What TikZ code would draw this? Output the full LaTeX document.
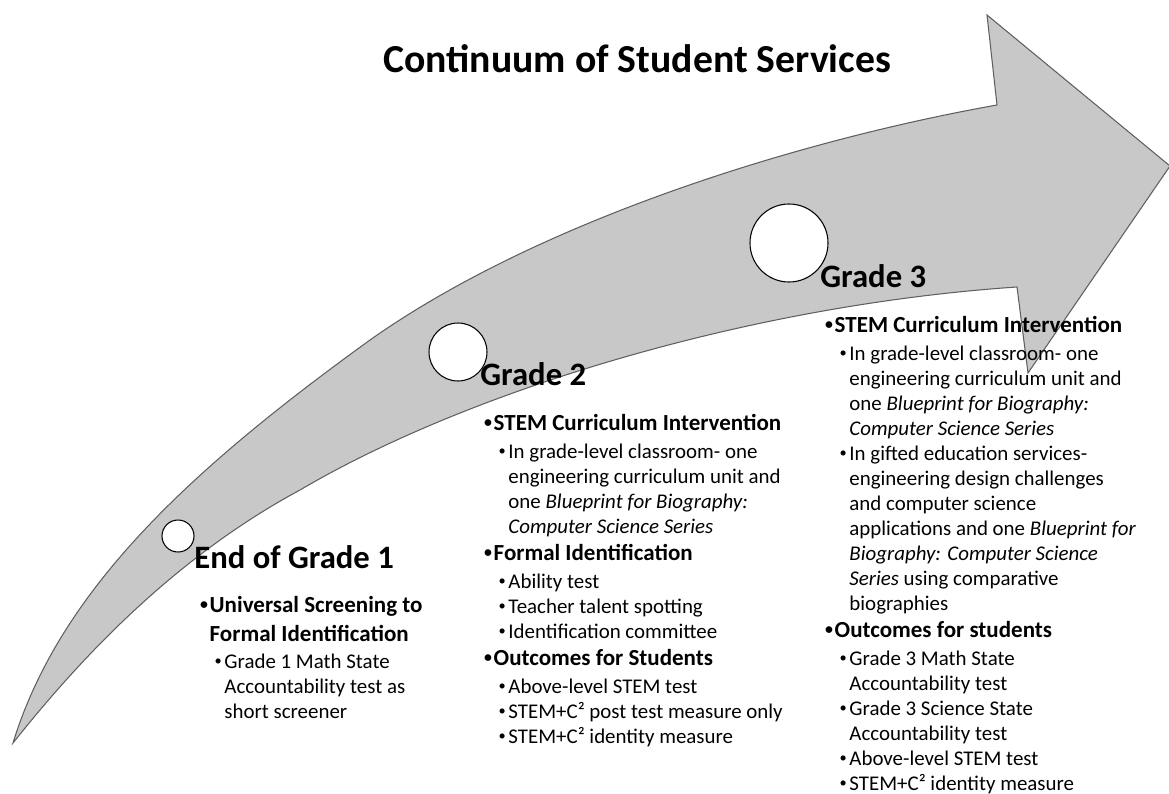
\documentclass[tikz,border=0pt]{standalone}
\usepackage{fontspec}
\setmainfont{Carlito}

\definecolor{arrowfill}{RGB}{200,200,200}
\definecolor{arrowline}{RGB}{95,95,95}

\def\ll{0.02}

% list lines: bold point, sub point, continued sub point
\newcommand{\ptA}{\hspace*{2.2pt}\makebox[5.4pt][l]{\raisebox{1.6pt}{\fontsize{9}{9}\selectfont\textbullet}}}
\newcommand{\ptB}{\hspace*{10.4pt}\makebox[5.6pt][l]{\raisebox{1.5pt}{\fontsize{8.2}{9}\selectfont\textbullet}}}
\newcommand{\lnA}[1]{{\fontsize{13.1}{14}\selectfont\bfseries\ptA #1}}
\newcommand{\lnD}[1]{{\fontsize{13.1}{14}\selectfont\bfseries\hspace*{7.6pt}#1}}
\newcommand{\lnB}[1]{\ptB #1}
\newcommand{\lnC}[1]{\hspace*{16pt}#1}

\begin{document}
\begin{tikzpicture}[
  arrow/.style={fill=arrowfill,draw=arrowline,line width=0.6pt,line join=miter},
  milestone/.style={fill=white,draw=black,line width=0.6pt},
  heading/.style={anchor=base west,inner sep=0pt,font=\fontsize{18.6}{22}\selectfont\bfseries},
  points/.style={anchor=north west,align=left,inner sep=0pt,font=\fontsize{11.9}{14.23}\selectfont}]
\useasboundingbox (0,0) rectangle (1169*\ll,-793*\ll);

\draw[arrow] ( 13*\ll,-743*\ll)
  .. controls ( 60*\ll,-590*\ll) and (190*\ll,-470*\ll) .. ( 370*\ll,-340*\ll)
  .. controls (540*\ll,-220*\ll) and (800*\ll,-140*\ll) .. ( 997*\ll,-105*\ll)
  -- ( 987*\ll, -15*\ll) -- (1170*\ll,-166*\ll) -- (1028*\ll,-373*\ll) -- (1017*\ll,-287*\ll)
  .. controls (750*\ll,-305*\ll) and (470*\ll,-390*\ll) .. ( 300*\ll,-490*\ll)
  .. controls (170*\ll,-560*\ll) and ( 75*\ll,-665*\ll) .. ( 13*\ll,-743*\ll) -- cycle;

\draw[milestone] (178*\ll,-536*\ll) circle (16*\ll);
\draw[milestone] (458*\ll,-352*\ll) circle (29*\ll);
\draw[milestone] (789*\ll,-243*\ll) circle (39*\ll);

\node[anchor=base west,inner sep=0pt,font=\fontsize{22.6}{27}\selectfont\bfseries] (title) at (383*\ll,-73*\ll) {Continuum of Student Services};

\node[heading] (head1) at (194*\ll,-568*\ll) {End of Grade 1};
\node[heading] (head2) at (480*\ll,-385*\ll) {Grade 2};
\node[heading] (head3) at (820*\ll,-287*\ll) {Grade 3};

\node[points] (list1) at (196*\ll,-596*\ll) {
  \lnA{Universal Screening to}\\[2.27pt]
  \lnD{Formal Identification}\\[1.1pt]
  \lnB{Grade 1 Math State}\\
  \lnC{Accountability test as}\\
  \lnC{short screener}};

\node[points] (list2) at (480*\ll,-414*\ll) {
  \lnA{STEM Curriculum Intervention}\\[1.42pt]
  \lnB{In grade-level classroom- one}\\
  \lnC{engineering curriculum unit and}\\
  \lnC{one \textit{Blueprint for Biography:}}\\
  \lnC{\textit{Computer Science Series}}\\[1.42pt]
  \lnA{Formal Identification}\\[1.42pt]
  \lnB{Ability test}\\
  \lnB{Teacher talent spotting}\\
  \lnB{Identification committee}\\[1.42pt]
  \lnA{Outcomes for Students}\\[1.42pt]
  \lnB{Above-level STEM test}\\
  \lnB{STEM+C² post test measure only}\\
  \lnB{STEM+C² identity measure}};

\node[points] (list3) at (821*\ll,-316*\ll) {
  \lnA{STEM Curriculum Intervention}\\[1.42pt]
  \lnB{In grade-level classroom- one}\\
  \lnC{engineering curriculum unit and}\\
  \lnC{one \textit{Blueprint for Biography:}}\\
  \lnC{\textit{Computer Science Series}}\\
  \lnB{In gifted education services-}\\
  \lnC{engineering design challenges}\\
  \lnC{and computer science}\\
  \lnC{applications and one \textit{Blueprint for}}\\
  \lnC{\textit{Biography: Computer Science}}\\
  \lnC{\textit{Series} using comparative}\\
  \lnC{biographies}\\[1.42pt]
  \lnA{Outcomes for students}\\[1.42pt]
  \lnB{Grade 3 Math State}\\
  \lnC{Accountability test}\\
  \lnB{Grade 3 Science State}\\
  \lnC{Accountability test}\\
  \lnB{Above-level STEM test}\\
  \lnB{STEM+C² identity measure}};
\end{tikzpicture}
\end{document}
